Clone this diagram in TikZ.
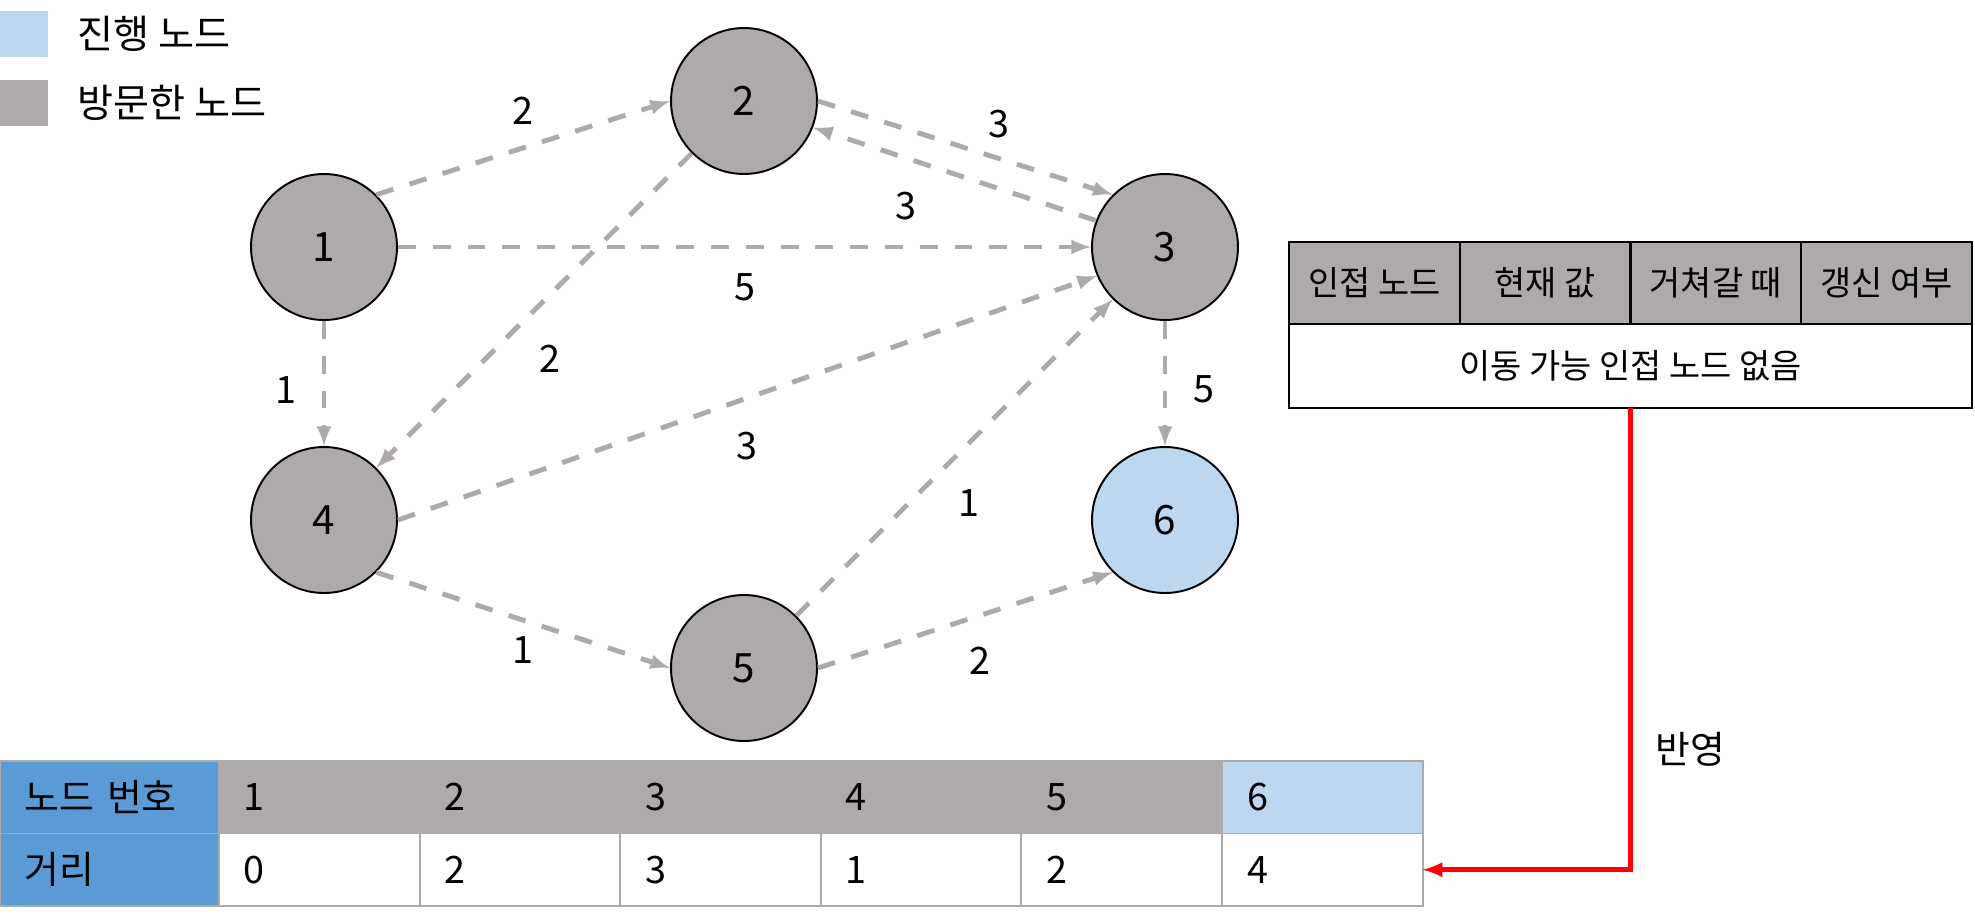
\documentclass[tikz,border=0pt]{standalone}
\usepackage{fontspec}
\setmainfont{Noto Sans CJK KR}
\usetikzlibrary{positioning}
\definecolor{visgray}{HTML}{AEAAAA}
\definecolor{curblue}{HTML}{BDD7EE}
\definecolor{keyblue}{HTML}{5B9BD5}
\definecolor{tblline}{HTML}{ABABAB}
\newcommand{\nodefont}{\fontsize{23}{27}\selectfont}
\newcommand{\wtfont}{\fontsize{21.5}{25}\selectfont}
\newcommand{\legfont}{\fontsize{22.3}{26}\selectfont}
\newcommand{\boxfont}{\fontsize{19.3}{23}\selectfont}
\tikzset{
  vnode/.style={draw, circle, line width=1.1pt, fill=visgray, minimum size=2.92cm, inner sep=0pt, font=\nodefont},
  edge/.style={draw=visgray, line width=2.8pt, dash pattern=on 10.2pt off 9.6pt, ->, >=latex},
  wt/.style={inner sep=0pt, font=\wtfont},
  legbox/.style={minimum width=0.96cm, minimum height=0.92cm, inner sep=0pt},
  rhead/.style={draw, line width=1.3pt, fill=visgray, anchor=north west, minimum width=3.415cm, minimum height=1.64cm, inner sep=0pt, outer sep=0pt, font=\boxfont},
  cell/.style={draw=tblline, line width=1.1pt, anchor=north west, minimum height=1.45cm, inner xsep=0.5cm, inner ysep=0pt, outer sep=0pt, align=left, text width=3.012cm, font=\wtfont},
  keycell/.style={cell, fill=keyblue, text width=3.38cm}
}
\begin{document}
\begin{tikzpicture}[x=0.02cm, y=-0.02cm]
\useasboundingbox (0,0) rectangle (1975,916);

% legend
\node[legbox, fill=curblue] (lcur) at (24,34) {};
\node[legbox, fill=visgray] (lvis) at (24,103) {};
\node[wt, font=\legfont, right=0.58cm of lcur] (tcur) {진행 노드};
\node[wt, font=\legfont, right=0.58cm of lvis] (tvis) {방문한 노드};

% graph
\node[vnode] (1) at (324,247) {1};
\node[vnode] (2) at (744,101) {2};
\node[vnode] (3) at (1165,247) {3};
\node[vnode] (4) at (324,520) {4};
\node[vnode] (5) at (744,668) {5};
\node[vnode, fill=curblue] (6) at (1165,520) {6};

\path[edge] (1.north east) -- node[wt, above=12pt] {2} (2.west);
\path[edge] (2.east) -- node[wt, above right=4pt and 12pt] {3} (3.north west);
\path[edge] (3.159) -- node[wt, below left=9pt and 20pt] {3} (2.-21);
\path[edge] (1.east) -- node[wt, below=14pt] {5} (3.west);
\path[edge] (2.south west) -- node[wt, below right=18pt and 2pt] {2} (4.north east);
\path[edge] (1.south) -- node[wt, pos=0.55, left=14pt] {1} (4.north);
\path[edge] (4.east) -- node[wt, below=18pt] {3} (3.203);
\path[edge] (5.north east) -- node[wt, below right=17pt and 1pt] {1} (3.south west);
\path[edge] (3.south) -- node[wt, pos=0.55, right=15pt] {5} (6.north);
\path[edge] (4.south east) -- node[wt, below=8pt] {1} (5.west);
\path[edge] (5.east) -- node[wt, below right=14pt and 1pt] {2} (6.south west);

% current step
\node[rhead] (r1) at (1289,242) {인접 노드};
\node[rhead] (r2) at (1459.75,242) {현재 값};
\node[rhead] (r3) at (1630.5,242) {거쳐갈 때};
\node[rhead] (r4) at (1801.25,242) {갱신 여부};
\node[rhead, fill=white, minimum width=13.66cm, minimum height=1.68cm] (rbody) at (1289,324) {이동 가능 인접 노드 없음};

% distance table
\node[keycell] (h0) at (0,761) {노드 번호};
\node[cell, fill=visgray] (h1) at (219,761) {1};
\node[cell, fill=visgray] (h2) at (419.6,761) {2};
\node[cell, fill=visgray] (h3) at (620.2,761) {3};
\node[cell, fill=visgray] (h4) at (820.8,761) {4};
\node[cell, fill=visgray] (h5) at (1021.4,761) {5};
\node[cell, fill=curblue] (h6) at (1222,761) {6};
\node[keycell] (d0) at (0,833.5) {거리};
\node[cell, fill=white] (d1) at (219,833.5) {0};
\node[cell, fill=white] (d2) at (419.6,833.5) {2};
\node[cell, fill=white] (d3) at (620.2,833.5) {3};
\node[cell, fill=white] (d4) at (820.8,833.5) {1};
\node[cell, fill=white] (d5) at (1021.4,833.5) {2};
\node[cell, fill=white] (d6) at (1222,833.5) {4};

\draw[red, line width=2.8pt, ->, >=latex] (rbody.south) |- node[wt, text=black, pos=0.37, right=13pt] {반영} (d6.east);
\end{tikzpicture}
\end{document}
